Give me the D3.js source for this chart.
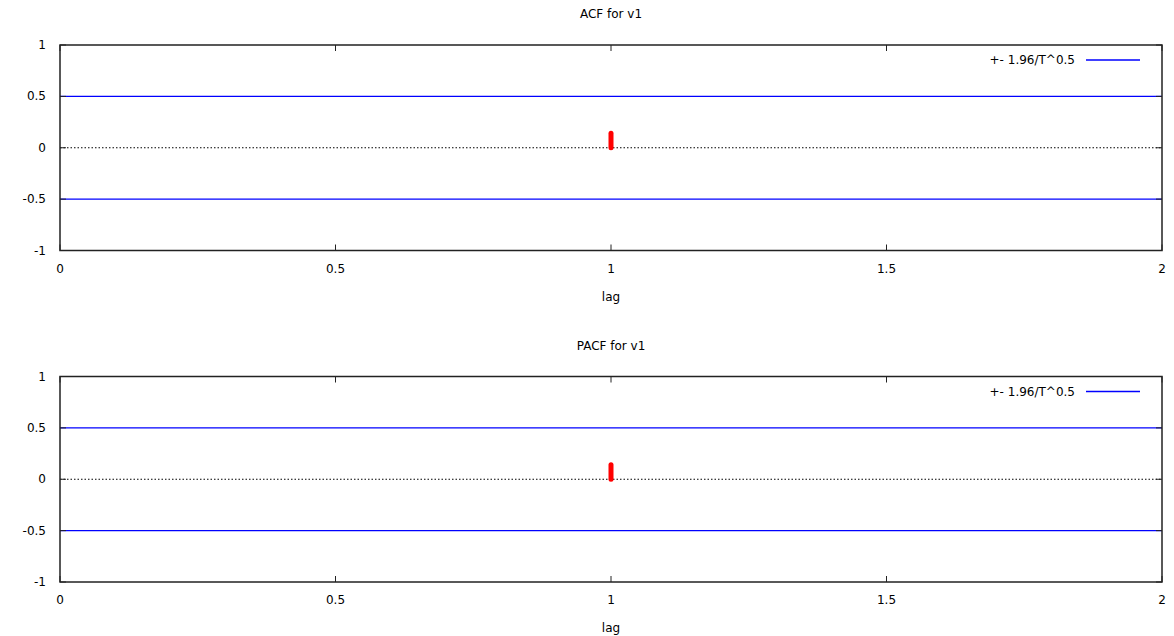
<!DOCTYPE html>
<html><head><meta charset="utf-8">
<script src="https://cdn.jsdelivr.net/npm/d3@7"></script>
<style>body{margin:0;background:#fff}svg{display:block}text{font-family:"DejaVu Sans",sans-serif;font-size:12px;fill:#000}</style>
</head><body>
<svg id="c" width="1174" height="636"></svg>
<script>
const lags = [1];
const acfValues = [0.14];
const pacfValues = [0.14];
const band = 0.5;
const xTicks = [0, 0.5, 1, 1.5, 2];
const yTicks = [-1, -0.5, 0, 0.5, 1];
const titles = ["ACF for v1", "PACF for v1"];
const legendLabel = "+- 1.96/T^0.5";

const svg = d3.select("#c");
const panels = [
  {title: titles[0], values: acfValues, top: 45, bottom: 250.5},
  {title: titles[1], values: pacfValues, top: 376.5, bottom: 582}
];
const left = 60, right = 1162;
const x = d3.scaleLinear().domain([0, 2]).range([left, right]);

panels.forEach(p => {
  const y = d3.scaleLinear().domain([-1, 1]).range([p.bottom, p.top]);
  const g = svg.append("g");
  g.append("line").attr("x1", left).attr("x2", right).attr("y1", y(0)).attr("y2", y(0))
    .attr("stroke", "#000").attr("stroke-width", 1).attr("stroke-dasharray", "1.5,2");
  [band, -band].forEach(b => {
    g.append("line").attr("x1", left).attr("x2", right).attr("y1", y(b)).attr("y2", y(b))
      .attr("stroke", "#0000ff").attr("stroke-width", 1.3);
  });
  g.selectAll(".bar").data(lags).enter().append("line")
    .attr("x1", d => x(d)).attr("x2", d => x(d))
    .attr("y1", y(0)).attr("y2", (d, i) => y(p.values[i]))
    .attr("stroke", "#ff0000").attr("stroke-width", 5).attr("stroke-linecap", "round");
  g.append("rect").attr("x", left).attr("y", p.top).attr("width", right - left).attr("height", p.bottom - p.top)
    .attr("fill", "none").attr("stroke", "#222").attr("stroke-width", 1.5);
  xTicks.forEach(t => {
    g.append("line").attr("x1", x(t)).attr("x2", x(t)).attr("y1", p.bottom).attr("y2", p.bottom - 6).attr("stroke", "#222");
    g.append("line").attr("x1", x(t)).attr("x2", x(t)).attr("y1", p.top).attr("y2", p.top + 6).attr("stroke", "#222");
    g.append("text").attr("x", x(t)).attr("y", p.bottom + 22).attr("text-anchor", "middle").text(t);
  });
  yTicks.forEach(t => {
    g.append("line").attr("x1", left).attr("x2", left + 6).attr("y1", y(t)).attr("y2", y(t)).attr("stroke", "#222");
    g.append("line").attr("x1", right).attr("x2", right - 6).attr("y1", y(t)).attr("y2", y(t)).attr("stroke", "#222");
    g.append("text").attr("x", 46).attr("y", y(t) + 4).attr("text-anchor", "end").text(t);
  });
  g.append("text").attr("x", (left + right) / 2).attr("y", p.top - 27).attr("text-anchor", "middle").text(p.title);
  g.append("text").attr("x", (left + right) / 2).attr("y", p.bottom + 50).attr("text-anchor", "middle").text("lag");
  const ly = p.top + 15;
  g.append("text").attr("x", 1075).attr("y", ly + 4).attr("text-anchor", "end").text(legendLabel);
  g.append("line").attr("x1", 1086).attr("x2", 1140).attr("y1", ly).attr("y2", ly)
    .attr("stroke", "#0000ff").attr("stroke-width", 1.3);
});
</script>
</body></html>
